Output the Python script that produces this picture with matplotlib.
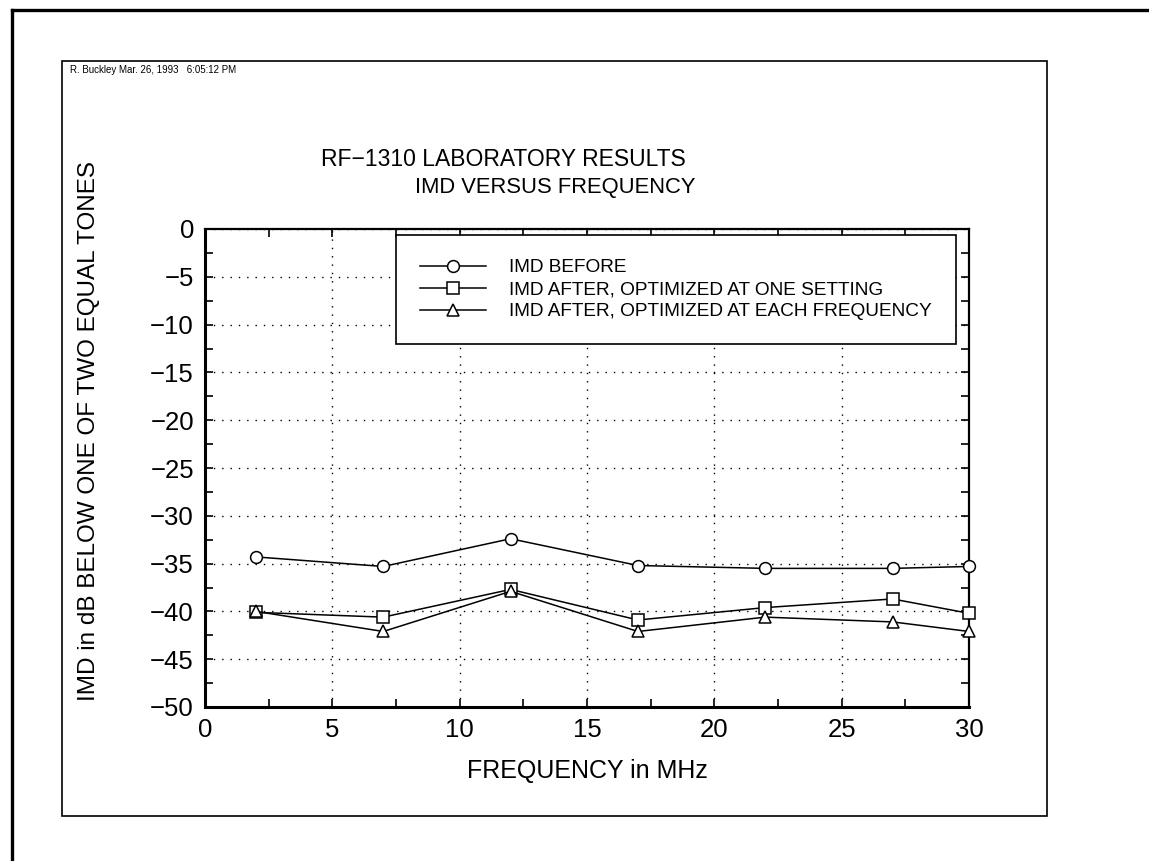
import matplotlib
matplotlib.use("Agg")
import matplotlib.pyplot as plt
from matplotlib.lines import Line2D
from matplotlib.patches import Rectangle
from matplotlib.ticker import MultipleLocator

FONT = ["Liberation Sans Narrow", "Liberation Sans", "DejaVu Sans"]
plt.rcParams["font.family"] = FONT

# data
freq = [2, 7, 12, 17, 22, 27, 30]
imd_before = [-34.3, -35.3, -32.4, -35.2, -35.5, -35.5, -35.3]
imd_after_one = [-40.1, -40.6, -37.7, -40.9, -39.6, -38.7, -40.2]
imd_after_each = [-40.0, -42.1, -37.9, -42.1, -40.6, -41.1, -42.1]

labels = ["IMD BEFORE",
          "IMD AFTER, OPTIMIZED AT ONE SETTING",
          "IMD AFTER, OPTIMIZED AT EACH FREQUENCY"]
markers = ["o", "s", "^"]

W, H = 1149, 861
fig = plt.figure(figsize=(W / 100, H / 100), dpi=100)

# page frame and plot frame
fig.add_artist(Line2D([12 / W, 1.0], [1 - 10 / H, 1 - 10 / H], color="black", lw=2.4))
fig.add_artist(Line2D([12 / W, 12 / W], [0.0, 1 - 10 / H], color="black", lw=2.4))
fig.add_artist(Rectangle((62 / W, 1 - 816 / H), (1047 - 62) / W, (816 - 61) / H,
                         fill=False, edgecolor="black", lw=1.2))

fig.text(70 / W, 1 - 70 / H, "R. Buckley Mar. 26, 1993   6:05:12 PM",
         fontsize=7, va="center", ha="left")
fig.text(503 / W, 1 - 160 / H, "RF\u22121310 LABORATORY RESULTS",
         fontsize=16.5, ha="center", va="center")
fig.text(555 / W, 1 - 188 / H, "IMD VERSUS FREQUENCY",
         fontsize=15.8, ha="center", va="center")

ax = fig.add_axes([205 / W, 1 - 707 / H, (969 - 205) / W, (707 - 229) / H])

series = [imd_before, imd_after_one, imd_after_each]
for vals, lab, m in zip(series, labels, markers):
    ax.plot(freq, vals, color="black", lw=1.1, marker=m, markersize=8.5,
            markerfacecolor="white", markeredgecolor="black", markeredgewidth=1.1,
            label=lab, clip_on=False, zorder=3)

ax.set_xlim(0, 30)
ax.set_ylim(-50, 0)
ax.xaxis.set_major_locator(MultipleLocator(5))
ax.xaxis.set_minor_locator(MultipleLocator(2.5))
ax.yaxis.set_major_locator(MultipleLocator(5))
ax.yaxis.set_minor_locator(MultipleLocator(2.5))
ax.tick_params(which="both", direction="in", top=True, right=True,
               length=6, width=1.2, labelsize=18.5, pad=8)

ax.grid(True, which="major", color="black", linestyle=(0, (1, 5)), lw=1.0)
for side in ["left", "bottom"]:
    ax.spines[side].set_linewidth(2.2)
for side in ["top", "right"]:
    ax.spines[side].set_linewidth(1.6)

ax.set_xlabel("FREQUENCY in MHz", fontsize=18, labelpad=12)
ax.set_ylabel("IMD in dB BELOW ONE OF TWO EQUAL TONES", fontsize=17.5)
ax.yaxis.set_label_coords(-105 / 764, (707 - 431) / 478)

leg = ax.legend(loc="upper left", bbox_to_anchor=(0.25, 0.987), borderaxespad=0,
                fontsize=13.7, frameon=True, fancybox=False, edgecolor="black",
                framealpha=1, handlelength=3.5, labelspacing=0.25, borderpad=1.25,
                handletextpad=1.2)
leg.get_frame().set_linewidth(1.2)

fig.savefig("out.png", dpi=100)
